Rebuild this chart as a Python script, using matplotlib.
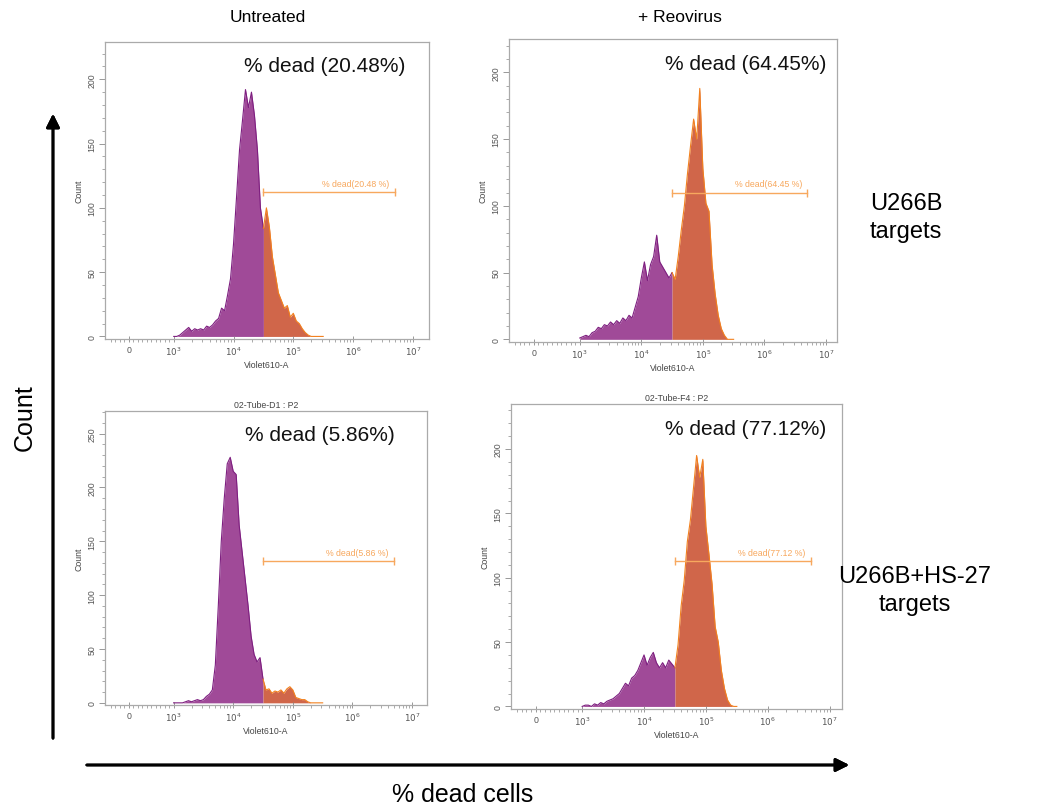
import numpy as np
import matplotlib
matplotlib.use("Agg")
import matplotlib.pyplot as plt
from matplotlib.ticker import FixedLocator, FixedFormatter, MultipleLocator

plt.rcParams["font.family"] = ["Liberation Sans", "DejaVu Sans"]

# histogram bins: log10 of Violet610-A intensity
log_bins = [3.00, 3.05, 3.10, 3.15, 3.20, 3.25, 3.30, 3.35, 3.40, 3.45,
            3.50, 3.55, 3.60, 3.65, 3.70, 3.75, 3.80, 3.85, 3.90, 3.95,
            4.00, 4.05, 4.10, 4.15, 4.20, 4.25, 4.30, 4.35, 4.40, 4.45,
            4.50, 4.55, 4.60, 4.65, 4.70, 4.75, 4.80, 4.85, 4.90, 4.95,
            5.00, 5.05, 5.10, 5.15, 5.20, 5.25, 5.30, 5.35, 5.40, 5.45, 5.50]

u266b_untreated = [0, 0, 1, 3, 5, 7, 4, 6, 5, 6,
                   5, 8, 7, 9, 12, 14, 22, 20, 32, 45,
                   72, 108, 145, 168, 192, 178, 190, 172, 145, 100,
                   84, 100, 85, 62, 48, 34, 28, 22, 24, 15,
                   18, 12, 10, 6, 3, 1, 0, 0, 0, 0, 0]
u266b_reovirus = [1, 2, 3, 2, 5, 6, 9, 8, 11, 10,
                  13, 11, 14, 12, 16, 14, 18, 16, 24, 32,
                  46, 58, 44, 56, 62, 78, 58, 54, 50, 46,
                  50, 45, 62, 82, 100, 124, 145, 165, 150, 188,
                  128, 102, 96, 56, 34, 18, 8, 3, 0, 0, 0]
hs27_untreated = [0, 0, 0, 0, 1, 2, 1, 2, 3, 2,
                  3, 6, 8, 12, 35, 90, 150, 190, 222, 228,
                  215, 212, 165, 140, 115, 90, 62, 45, 38, 42,
                  22, 12, 13, 9, 11, 10, 12, 9, 13, 15,
                  12, 5, 4, 3, 3, 1, 0, 0, 0, 0, 0]
hs27_reovirus = [0, 1, 1, 0, 2, 1, 3, 2, 4, 5,
                 6, 8, 10, 14, 18, 16, 22, 24, 28, 34,
                 40, 32, 38, 42, 34, 30, 34, 30, 36, 33,
                 30, 48, 78, 98, 128, 145, 170, 195, 178, 192,
                 140, 118, 95, 62, 50, 28, 14, 5, 1, 0, 0]

pct_labels = ["20.48", "64.45", "5.86", "77.12"]
gate_y = [112, 110, 132, 113]
ymax = [229, 225, 271, 235]
tube_titles = ["", "", "02-Tube-D1 : P2", "02-Tube-F4 : P2"]
col_titles = ["Untreated", "+ Reovirus"]
row_titles = ["U266B\ntargets", "U266B+HS-27\ntargets"]

GATE_LO = 10 ** 4.5
GATE_HI = 10 ** 6.7
PURPLE, PURPLE_EDGE = "#a04a98", "#7e1f80"
ORANGE, ORANGE_EDGE = "#d0664a", "#f2811f"
GATE_C = "#f7a85e"

W, H = 1043, 812


def fwd(x):
    x = np.asarray(x, dtype=float)
    with np.errstate(divide="ignore", invalid="ignore"):
        lg = np.log10(np.where(x > 0, x, 1.0)) - 2.25
    return np.where(x >= 1e3, lg, x * 0.75 / 1e3)


def inv(u):
    u = np.asarray(u, dtype=float)
    return np.where(u >= 0.75, 10 ** (np.clip(u, 0.75, 20) + 2.25), u * 1e3 / 0.75)


def box(l, r, t, b):
    return [l / W, 1 - b / H, (r - l) / W, (b - t) / H]


fig = plt.figure(figsize=(W / 100, H / 100), dpi=100)

boxes = [box(105, 429, 43, 340), box(509, 837, 40, 343),
         box(105, 427, 412, 706), box(511, 842, 405, 710)]
uright = [5.02, 4.93, 5.0, 4.95]
text_x = [0.43, 0.476, 0.435, 0.465]
series = [u266b_untreated, u266b_reovirus, hs27_untreated, hs27_reovirus]

x = 10 ** np.array(log_bins)
major_x = [0, 1e3, 1e4, 1e5, 1e6, 1e7]
major_lab = ["0", "$10^3$", "$10^4$", "$10^5$", "$10^6$", "$10^7$"]
minor_x = [-400, -300, -200, -100] + list(range(100, 1000, 100))
for e in range(3, 7):
    minor_x += [k * 10 ** e for k in range(2, 10)]

for i, (rect, counts) in enumerate(zip(boxes, series)):
    ax = fig.add_axes(rect)
    ax.set_xscale("function", functions=(fwd, inv))
    y = np.array(counts, dtype=float)
    left = x <= GATE_LO
    right = x >= GATE_LO
    ax.fill_between(x, 0, y, where=left, color=PURPLE, lw=0)
    ax.plot(x[left], y[left], color=PURPLE_EDGE, lw=0.8)
    ax.fill_between(x, 0, y, where=right, color=ORANGE, lw=0)
    ax.plot(x[right], y[right], color=ORANGE_EDGE, lw=0.8)

    ax.set_xlim(float(inv(-0.4)), float(inv(uright[i])))
    ax.set_ylim(-2, ymax[i])

    ax.xaxis.set_major_locator(FixedLocator(major_x))
    ax.xaxis.set_major_formatter(FixedFormatter(major_lab))
    ax.xaxis.set_minor_locator(FixedLocator(minor_x))
    ax.yaxis.set_major_locator(MultipleLocator(50))
    ax.yaxis.set_minor_locator(MultipleLocator(10))
    ax.tick_params(axis="both", which="major", labelsize=6.3, labelcolor="#555555",
                   color="#888888", length=4, width=0.6, pad=2)
    ax.tick_params(axis="both", which="minor", color="#888888", length=2, width=0.5)
    ax.tick_params(axis="x", direction="inout")
    for lab in ax.get_yticklabels():
        lab.set_rotation(90)
        lab.set_va("center")
    for sp in ax.spines.values():
        sp.set_color("#aaaaaa")
        sp.set_linewidth(0.9)
    ax.set_xlabel("Violet610-A", fontsize=6.3, color="#444444", labelpad=2)
    ax.set_ylabel("Count", fontsize=6.3, color="#444444", labelpad=3)
    if tube_titles[i]:
        ax.set_title(tube_titles[i], fontsize=6.3, color="#444444", pad=3)

    # gate bar
    ax.plot([GATE_LO, GATE_HI], [gate_y[i], gate_y[i]], color=GATE_C, lw=1.0,
            marker="|", markersize=6, markeredgewidth=1.0)
    ax.annotate(f"% dead({pct_labels[i]} %)", xy=(GATE_HI, gate_y[i]),
                xytext=(-4, 3), textcoords="offset points", ha="right", va="bottom",
                fontsize=6.3, color=GATE_C)
    ax.text(text_x[i], 0.92, f"% dead ({pct_labels[i]}%)", transform=ax.transAxes,
            ha="left", va="center", fontsize=15, color="#111111")

# column / row headings
fig.text(268 / W, 1 - 18 / H, col_titles[0], ha="center", va="center", fontsize=12.5)
fig.text(680 / W, 1 - 18 / H, col_titles[1], ha="center", va="center", fontsize=12.5)
fig.text(906 / W, 1 - 218 / H, row_titles[0], ha="center", va="center", fontsize=17,
         linespacing=1.3)
fig.text(915 / W, 1 - 591 / H, row_titles[1], ha="center", va="center", fontsize=17,
         linespacing=1.3)

# outer axes arrows
fig.text(25 / W, 1 - 418 / H, "Count", rotation=90, ha="center", va="center", fontsize=18)
fig.text(463 / W, 1 - 795 / H, "% dead cells", ha="center", va="center", fontsize=18)
fig.add_artist(plt.annotate("", xy=(53 / W, 1 - 112 / H), xytext=(53 / W, 1 - 742 / H),
                            xycoords="figure fraction", textcoords="figure fraction",
                            arrowprops=dict(arrowstyle="-|>", color="black", lw=2,
                                            mutation_scale=20)))
fig.add_artist(plt.annotate("", xy=(852 / W, 1 - 766 / H), xytext=(84 / W, 1 - 766 / H),
                            xycoords="figure fraction", textcoords="figure fraction",
                            arrowprops=dict(arrowstyle="-|>", color="black", lw=2,
                                            mutation_scale=20)))

fig.savefig("out.png", dpi=100)
